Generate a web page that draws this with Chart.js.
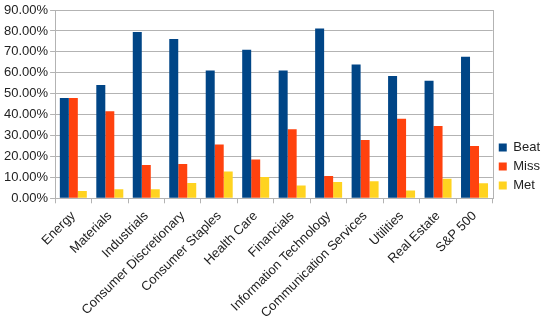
<!DOCTYPE html>
<html>
<head>
<meta charset="utf-8">
<script src="https://cdn.jsdelivr.net/npm/chart.js@4"></script>
<style>
  html, body { margin: 0; padding: 0; background: #fff; }
  #wrap { width: 550px; height: 323px; }
</style>
</head>
<body>
<div id="wrap"><canvas id="myChart"></canvas></div>
<script>
"use strict"

const sectors = [
    'Energy', 'Materials', 'Industrials', 'Consumer Discretionary',
    'Consumer Staples', 'Health Care', 'Financials', 'Information Technology',
    'Communication Services', 'Utilities', 'Real Estate', 'S&P 500',
];
const beat = [48.0, 54.1, 79.5, 76.1, 61.1, 71.0, 61.1, 81.2, 64.0, 58.4, 56.2, 67.7];
const miss = [48.0, 41.6, 15.9, 16.4, 25.7, 18.5, 33.0, 10.7, 27.9, 38.0, 34.5, 25.0];
const met = [3.5, 4.3, 4.3, 7.3, 12.8, 10.2, 6.1, 7.8, 8.1, 3.7, 9.4, 7.2];
const yTicks = [0, 10, 20, 30, 40, 50, 60, 70, 80, 90];

Chart.defaults.font.family = '"Liberation Sans", Arial, sans-serif';
Chart.defaults.font.size = 13;
Chart.defaults.color = '#222';

// border round the plot area
const plotBorder = {
    id: 'plotBorder',
    afterDatasetsDraw(chart) {
        const a = chart.chartArea;
        const ctx = chart.ctx;
        ctx.save();
        ctx.strokeStyle = '#b3b3b3';
        ctx.lineWidth = 1;
        ctx.strokeRect(Math.round(a.left) + 0.5, Math.round(a.top) + 0.5,
            Math.round(a.right - a.left), Math.round(a.bottom - a.top));
        ctx.restore();
    }
};

let myChart = document.getElementById('myChart');

const data = {
    labels: sectors,
    datasets: [
        { label: 'Beat', data: beat, backgroundColor: '#004586' },
        { label: 'Miss', data: miss, backgroundColor: '#ff420e' },
        { label: 'Met', data: met, backgroundColor: '#ffd320' },
    ]
};

let theChart = new Chart(myChart, {
    type: 'bar',
    data: data,
    plugins: [plotBorder],
    options: {
        responsive: true,
        maintainAspectRatio: false,
        animation: false,
        layout: { padding: { top: 10, right: 0, left: 2, bottom: 0 } },
        datasets: {
            bar: { categoryPercentage: 0.74, barPercentage: 1.0 }
        },
        scales: {
            x: {
                grid: { display: true, drawOnChartArea: false, offset: true, tickLength: 5, color: '#b3b3b3' },
                border: { color: '#b3b3b3' },
                ticks: { minRotation: 45, maxRotation: 45, autoSkip: false, padding: 5, color: '#222' },
                afterFit: (axis) => { axis.height -= 3; },
            },
            y: {
                min: 0,
                max: 90,
                afterBuildTicks: (axis) => { axis.ticks = yTicks.map(v => ({ value: v })); },
                grid: { color: '#b3b3b3', tickLength: 5 },
                border: { color: '#b3b3b3' },
                ticks: { callback: (v) => v.toFixed(2) + '%', padding: 2, color: '#222' },
            },
        },
        plugins: {
            legend: {
                position: 'right',
                align: 'center',
                labels: { boxWidth: 8, boxHeight: 8, padding: 6, color: '#222', font: { size: 13 } },
            },
            tooltip: { enabled: false },
        }
    }
});
</script>
</body>
</html>
